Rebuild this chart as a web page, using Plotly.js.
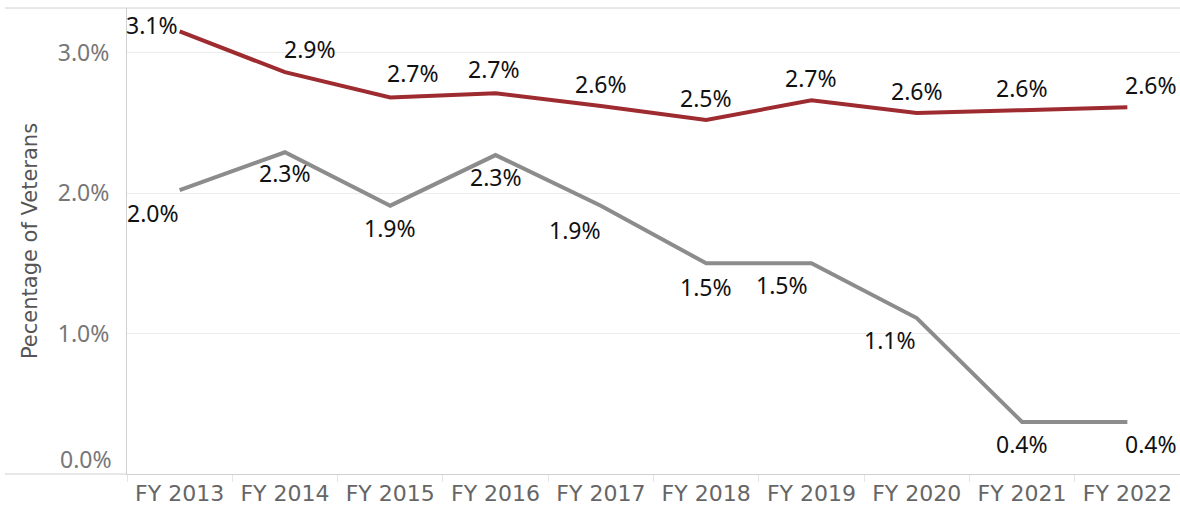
<!DOCTYPE html>
<html>
<head>
<meta charset="utf-8">
<script src="https://cdn.plot.ly/plotly-3.0.1.min.js"></script>
<style>html,body{margin:0;padding:0;background:#fff;}#chart{width:1180px;height:511px;}</style>
</head>
<body>
<div id="chart"></div>
<script>
const years = ["FY 2013","FY 2014","FY 2015","FY 2016","FY 2017","FY 2018","FY 2019","FY 2020","FY 2021","FY 2022"];
const redValues  = [3.15, 2.86, 2.68, 2.71, 2.62, 2.52, 2.66, 2.57, 2.59, 2.61];
const grayValues = [2.02, 2.29, 1.91, 2.27, 1.91, 1.50, 1.50, 1.11, 0.37, 0.37];
const redLabels  = ["3.1%","2.9%","2.7%","2.7%","2.6%","2.5%","2.7%","2.6%","2.6%","2.6%"];
const grayLabels = ["2.0%","2.3%","1.9%","2.3%","1.9%","1.5%","1.5%","1.1%","0.4%","0.4%"];
const yTicks = [1,2,3];
const yTickText = ["1.0%","2.0%","3.0%"];
const zeroLabel = "0.0%";

// label offsets (style only)
const redShiftX  = [-28, 25, 23, -2, 0, 0, 0, 0, 0, 24];
const redShiftY  = [6, 23, 24, 24, 22, 22, 22, 22, 22, 22];
const grayShiftX = [-27, 0, 0, 0, -26, 0, -29, -27, 0, 24];
const grayShiftY = [-23, -21, -22, -22, -24, -24, -22, -22, -22, -22];

const font = "Noto Sans, sans-serif";
const wide = "DejaVu Sans, sans-serif";
const annotations = [];
years.forEach((y,i)=>{
  annotations.push({x:y, y:redValues[i], xref:'x', yref:'y', text:redLabels[i], showarrow:false,
    xshift:redShiftX[i], yshift:redShiftY[i], font:{family:font,size:23,color:'#111'}});
  annotations.push({x:y, y:grayValues[i], xref:'x', yref:'y', text:grayLabels[i], showarrow:false,
    xshift:grayShiftX[i], yshift:grayShiftY[i], font:{family:font,size:23,color:'#111'}});
});
annotations.push({x:0, y:0, xref:'paper', yref:'y', text:zeroLabel, showarrow:false, xanchor:'right',
  xshift:-13, yshift:15, font:{family:font,size:23,color:'#777'}});

const traces = [
  {x:years, y:grayValues, type:'scatter', mode:'lines', line:{color:'#8c8c8c', width:4}, hoverinfo:'skip'},
  {x:years, y:redValues, type:'scatter', mode:'lines', line:{color:'#9e2b30', width:4}, hoverinfo:'skip'}
];

const layout = {
  width:1180, height:511,
  margin:{l:127, r:0, t:8, b:37},
  paper_bgcolor:'#fff', plot_bgcolor:'#fff',
  showlegend:false,
  font:{family:font, size:23, color:'#666'},
  xaxis:{type:'category', range:[-0.5,9.5], showgrid:false, zeroline:false,
    ticks:'outside', tickson:'boundaries', ticklen:7, tickcolor:'#e6e6e6', tickwidth:1,
    tickfont:{family:wide,size:22,color:'#666'}, showline:true, linecolor:'#d0d0d0', linewidth:1, fixedrange:true},
  yaxis:{range:[0,3.317], tickvals:yTicks, ticktext:yTickText, showgrid:true, gridcolor:'#ececec', gridwidth:1,
    zeroline:false, showline:true, linecolor:'#d0d0d0', linewidth:1, ticks:'', ticklabelstandoff:12,
    tickfont:{family:font,size:23,color:'#777'},
    title:{text:'Pecentage of Veterans', font:{family:wide,size:21,color:'#555'}, standoff:14}, fixedrange:true},
  annotations: annotations,
  shapes:[
    {type:'line', xref:'paper', yref:'paper', x0:-0.116, x1:1, y0:1, y1:1, line:{color:'#d0d0d0', width:1}},
    {type:'line', xref:'paper', yref:'paper', x0:-0.116, x1:0, y0:0, y1:0, line:{color:'#d0d0d0', width:1}}
  ]
};

Plotly.newPlot('chart', traces, layout, {displayModeBar:false, staticPlot:true});
</script>
</body>
</html>
